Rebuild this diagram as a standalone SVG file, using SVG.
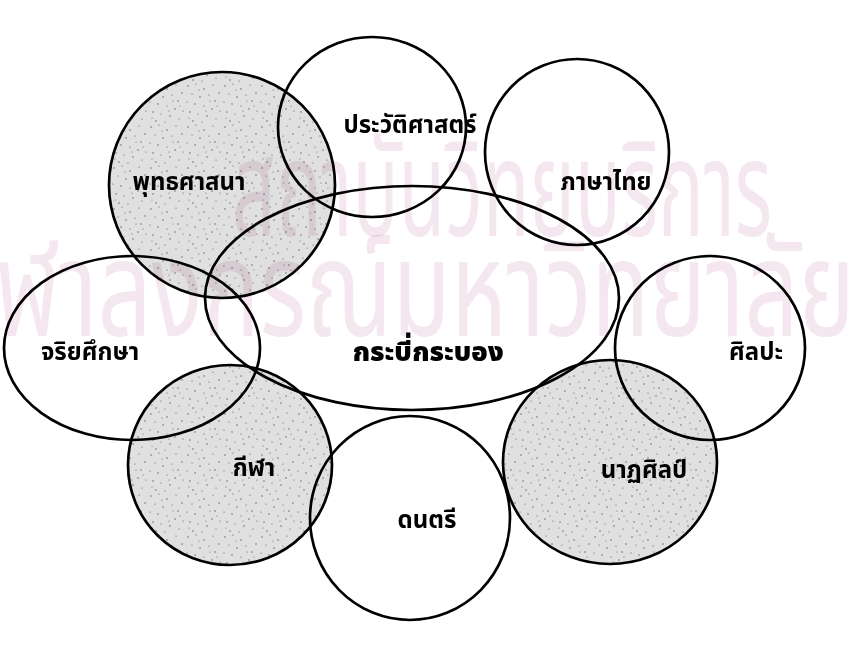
<svg xmlns="http://www.w3.org/2000/svg" width="857" height="651" viewBox="0 0 857 651">
<defs>
<pattern id="stip" width="37" height="41" patternUnits="userSpaceOnUse">
<rect width="37" height="41" fill="#e0e0e0"/>
<g fill="#555">
<circle cx="3" cy="4" r="0.7"/><circle cx="11" cy="2" r="0.6"/><circle cx="19" cy="7" r="0.7"/><circle cx="28" cy="3" r="0.6"/><circle cx="34" cy="11" r="0.7"/>
<circle cx="7" cy="12" r="0.6"/><circle cx="15" cy="15" r="0.7"/><circle cx="24" cy="13" r="0.6"/><circle cx="30" cy="19" r="0.7"/><circle cx="2" cy="20" r="0.6"/>
<circle cx="10" cy="22" r="0.7"/><circle cx="19" cy="24" r="0.6"/><circle cx="27" cy="27" r="0.7"/><circle cx="35" cy="29" r="0.6"/><circle cx="5" cy="30" r="0.7"/>
<circle cx="13" cy="32" r="0.6"/><circle cx="22" cy="34" r="0.7"/><circle cx="31" cy="37" r="0.6"/><circle cx="8" cy="39" r="0.7"/><circle cx="17" cy="40" r="0.6"/>
<circle cx="14" cy="8" r="0.5"/><circle cx="32" cy="24" r="0.5"/><circle cx="25" cy="19" r="0.5"/><circle cx="4" cy="36" r="0.5"/><circle cx="21" cy="29" r="0.5"/>
</g>
</pattern>
</defs>
<style>
.c{fill:none;stroke:#000;stroke-width:2.7}
.s{fill:url(#stip);stroke:none}
.t{font-family:"Noto Sans Thai","Noto Sans",sans-serif;font-size:24px;font-weight:bold;fill:#000;text-anchor:middle}
.big{font-size:27px;font-weight:900}
.wm{font-family:"Noto Sans Thai","Noto Sans",sans-serif;font-size:135px;fill:#f5e7ef;mix-blend-mode:multiply}
</style>
<rect width="857" height="651" fill="#fff"/>
<g id="shading">
<ellipse class="s" cx="222" cy="185" rx="113" ry="113"/>
<ellipse class="s" cx="230" cy="465" rx="102" ry="100"/>
<ellipse class="s" cx="610" cy="462" rx="107" ry="102"/>
</g>
<g id="watermark">
<text class="wm" x="232" y="236" textLength="540" lengthAdjust="spacingAndGlyphs">สถาบันวิทยบริการ</text>
<text class="wm" x="-55" y="336" textLength="910" lengthAdjust="spacingAndGlyphs">จุฬาลงกรณ์มหาวิทยาลัย</text>
</g>
<g id="connectors"/>
<g id="n-buddhism"><ellipse class="c" cx="222" cy="185" rx="113" ry="113"/><text class="t" x="189" y="190">พุทธศาสนา</text></g>
<g id="n-history"><ellipse class="c" cx="372" cy="127" rx="94" ry="90"/><text class="t" x="410" y="133">ประวัติศาสตร์</text></g>
<g id="n-thai"><ellipse class="c" cx="577" cy="152" rx="92" ry="93"/><text class="t" x="606" y="190">ภาษาไทย</text></g>
<g id="n-ethics"><ellipse class="c" cx="132" cy="348" rx="128" ry="92"/><text class="t" x="90" y="360">จริยศึกษา</text></g>
<g id="n-krabi"><ellipse class="c" cx="412" cy="298" rx="207" ry="112"/><text class="t big" x="428" y="361">กระบี่กระบอง</text></g>
<g id="n-art"><ellipse class="c" cx="710" cy="348" rx="95" ry="92"/><text class="t" x="756" y="360">ศิลปะ</text></g>
<g id="n-sport"><ellipse class="c" cx="230" cy="465" rx="102" ry="100"/><text class="t" x="254" y="476">กีฬา</text></g>
<g id="n-music"><ellipse class="c" cx="410" cy="518" rx="100" ry="102"/><text class="t" x="427" y="528">ดนตรี</text></g>
<g id="n-dance"><ellipse class="c" cx="610" cy="462" rx="107" ry="102"/><text class="t" x="644" y="478">นาฏศิลป์</text></g>
</svg>
